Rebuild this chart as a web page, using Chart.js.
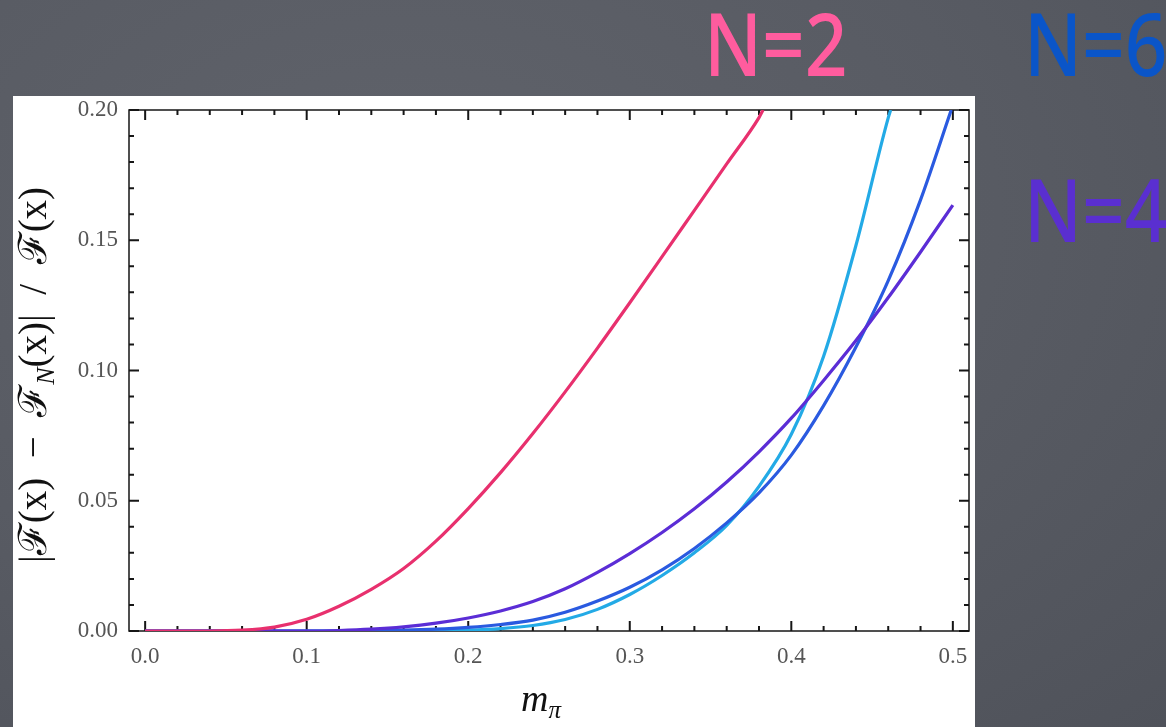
<!DOCTYPE html>
<html>
<head>
<meta charset="utf-8">
<script src="https://cdn.jsdelivr.net/npm/chart.js@4.4.1/dist/chart.umd.min.js"></script>
<style>
  html, body { margin: 0; padding: 0; }
  body {
    width: 1166px; height: 727px; overflow: hidden; position: relative;
    background: radial-gradient(ellipse at 35% 30%, #60636b 0%, #585b63 55%, #4f525a 100%);
  }
  #panel { position: absolute; left: 13px; top: 96px; width: 962px; height: 631px; background: #fff; }
  #chart { position: absolute; left: 0; top: 0; }
</style>
</head>
<body>
<div id="panel"></div>
<canvas id="chart" width="1166" height="727"></canvas>
<script>
// tick labels
const xTicks = [0, 0.1, 0.2, 0.3, 0.4, 0.5];
const yTicks = [0, 0.05, 0.1, 0.15, 0.2];

// N=2 (pink)
const n2X = [0, 0.04, 0.06, 0.08, 0.10, 0.12, 0.14, 0.16, 0.18, 0.20, 0.22, 0.24, 0.26, 0.28, 0.30, 0.32, 0.34, 0.36, 0.38, 0.3825];
const n2Y = [0, 0, 0.0003, 0.0015, 0.0045, 0.0095, 0.016, 0.024, 0.0345, 0.047, 0.0608, 0.0758, 0.0918, 0.1086, 0.126, 0.1437, 0.1615, 0.1793, 0.1971, 0.2];
// N=4 (purple)
const n4X = [0, 0.10, 0.12, 0.14, 0.16, 0.18, 0.20, 0.22, 0.24, 0.26, 0.28, 0.30, 0.32, 0.34, 0.36, 0.38, 0.40, 0.42, 0.44, 0.46, 0.48, 0.50];
const n4Y = [0, 0, 0.0002, 0.0007, 0.0016, 0.003, 0.005, 0.0077, 0.0113, 0.0162, 0.0225, 0.0297, 0.0378, 0.0469, 0.0572, 0.0688, 0.0817, 0.0962, 0.1115, 0.128, 0.1455, 0.1635];
// N=6 (blue)
const n6X = [0, 0.12, 0.14, 0.16, 0.18, 0.20, 0.22, 0.24, 0.26, 0.28, 0.30, 0.32, 0.34, 0.36, 0.38, 0.40, 0.42, 0.44, 0.46, 0.48, 0.499];
const n6Y = [0, 0, 0.0001, 0.0003, 0.0007, 0.0014, 0.0025, 0.0042, 0.0072, 0.0115, 0.0168, 0.0235, 0.0317, 0.0415, 0.053, 0.0675, 0.0865, 0.109, 0.1345, 0.1655, 0.2];
// N=8 (light blue)
const n8X = [0, 0.16, 0.18, 0.20, 0.22, 0.24, 0.26, 0.28, 0.30, 0.32, 0.34, 0.36, 0.38, 0.40, 0.42, 0.44, 0.46, 0.4615];
const n8Y = [0, 0, 0.0001, 0.0003, 0.0009, 0.0021, 0.0044, 0.0083, 0.014, 0.0213, 0.030, 0.0405, 0.0555, 0.0755, 0.1055, 0.148, 0.197, 0.2];

const pts = (xs, ys) => xs.map((x, i) => ({ x, y: ys[i] }));
const serif = "'Liberation Serif', 'DejaVu Serif', serif";

// frame with inward major/minor ticks on all four sides
const frame = {
  id: 'frame',
  beforeDatasetsDraw(chart) {
    const { ctx, chartArea: a, scales: { x, y } } = chart;
    ctx.save();
    ctx.strokeStyle = '#161616';
    ctx.lineWidth = 1.5;
    ctx.strokeRect(a.left, a.top, a.right - a.left, a.bottom - a.top);
    ctx.lineWidth = 2;
    ctx.beginPath();
    for (let i = 0; i <= 25; i++) {
      const px = x.getPixelForValue(i * 0.02);
      const len = i % 5 === 0 ? 10 : 5;
      ctx.moveTo(px, a.bottom); ctx.lineTo(px, a.bottom - len);
      ctx.moveTo(px, a.top); ctx.lineTo(px, a.top + len);
    }
    for (let i = 0; i <= 20; i++) {
      const py = y.getPixelForValue(i * 0.01);
      const len = i % 5 === 0 ? 10 : 5;
      ctx.moveTo(a.left, py); ctx.lineTo(a.left + len, py);
      ctx.moveTo(a.right, py); ctx.lineTo(a.right - len, py);
    }
    ctx.stroke();
    ctx.restore();
  }
};

// axis titles (with subscripts) and the N labels
const labels = {
  id: 'labels',
  afterDraw(chart) {
    const { ctx, chartArea: a } = chart;
    ctx.save();
    ctx.fillStyle = '#111';
    ctx.textBaseline = 'alphabetic';

    // x title: m_pi
    const cx = (a.left + a.right) / 2;
    ctx.font = 'italic 38px ' + serif;
    const mw = ctx.measureText('m').width;
    ctx.font = 'italic 25px ' + serif;
    const pw = ctx.measureText('π').width;
    const sx = cx - 8 - (mw + pw) / 2;
    ctx.font = 'italic 38px ' + serif;
    ctx.fillText('m', sx, 711);
    ctx.font = 'italic 25px ' + serif;
    ctx.fillText('π', sx + mw, 718);

    // y title, rotated
    const parts = [
      ['|ℱ(x)  −  ℱ', 39, 0, ''],
      ['N', 26, 8, 'italic '],
      ['(x)|  /  ℱ(x)', 39, 0, '']
    ];
    let total = 0;
    parts.forEach(p => { ctx.font = p[3] + p[1] + 'px ' + serif; total += ctx.measureText(p[0]).width; });
    ctx.translate(46, 375);
    ctx.rotate(-Math.PI / 2);
    let tx = -total / 2;
    parts.forEach(p => {
      ctx.font = p[3] + p[1] + 'px ' + serif;
      ctx.fillText(p[0], tx, p[2]);
      tx += ctx.measureText(p[0]).width;
    });
    ctx.restore();

    // N labels
    const tags = [
      ['N=2', '#ff5c9e', 704, 76],
      ['N=6', '#0a55c8', 1024, 76],
      ['N=4', '#5a2fd0', 1024, 242]
    ];
    tags.forEach(t => {
      ctx.save();
      ctx.fillStyle = t[1];
      ctx.font = '500 87px "Noto Sans", sans-serif';
      ctx.translate(t[2], t[3]);
      ctx.scale(0.86, 1);
      ctx.fillText(t[0], 0, 0);
      ctx.restore();
    });
  }
};

new Chart(document.getElementById('chart'), {
  type: 'line',
  data: {
    datasets: [
      { label: 'N=2', data: pts(n2X, n2Y), borderColor: '#e8306e' },
      { label: 'N=4', data: pts(n4X, n4Y), borderColor: '#5b2dd6' },
      { label: 'N=6', data: pts(n6X, n6Y), borderColor: '#2a5ae0' },
      { label: 'N=8', data: pts(n8X, n8Y), borderColor: '#23aae6' }
    ]
  },
  options: {
    responsive: false,
    animation: false,
    devicePixelRatio: 1,
    layout: { padding: { left: 0, top: 110, right: 197, bottom: 0 } },
    elements: {
      point: { radius: 0 },
      line: { borderWidth: 3.2, cubicInterpolationMode: 'monotone', fill: false }
    },
    plugins: { legend: { display: false }, tooltip: { enabled: false } },
    scales: {
      x: {
        type: 'linear',
        min: -0.01,
        max: 0.51,
        afterBuildTicks: s => { s.ticks = xTicks.map(v => ({ value: v })); },
        afterFit: s => { s.height = 96; },
        grid: { display: false, drawTicks: false },
        border: { display: false },
        ticks: {
          padding: 12,
          color: '#555',
          font: { family: serif, size: 23 },
          maxRotation: 0,
          callback: v => v.toFixed(1)
        }
      },
      y: {
        type: 'linear',
        min: 0,
        max: 0.2,
        afterBuildTicks: s => { s.ticks = yTicks.map(v => ({ value: v })); },
        afterFit: s => { s.width = 129; },
        grid: { display: false, drawTicks: false },
        border: { display: false },
        ticks: {
          padding: 11,
          color: '#555',
          font: { family: serif, size: 23 },
          callback: v => v.toFixed(2)
        }
      }
    }
  },
  plugins: [frame, labels]
});
</script>
</body>
</html>
